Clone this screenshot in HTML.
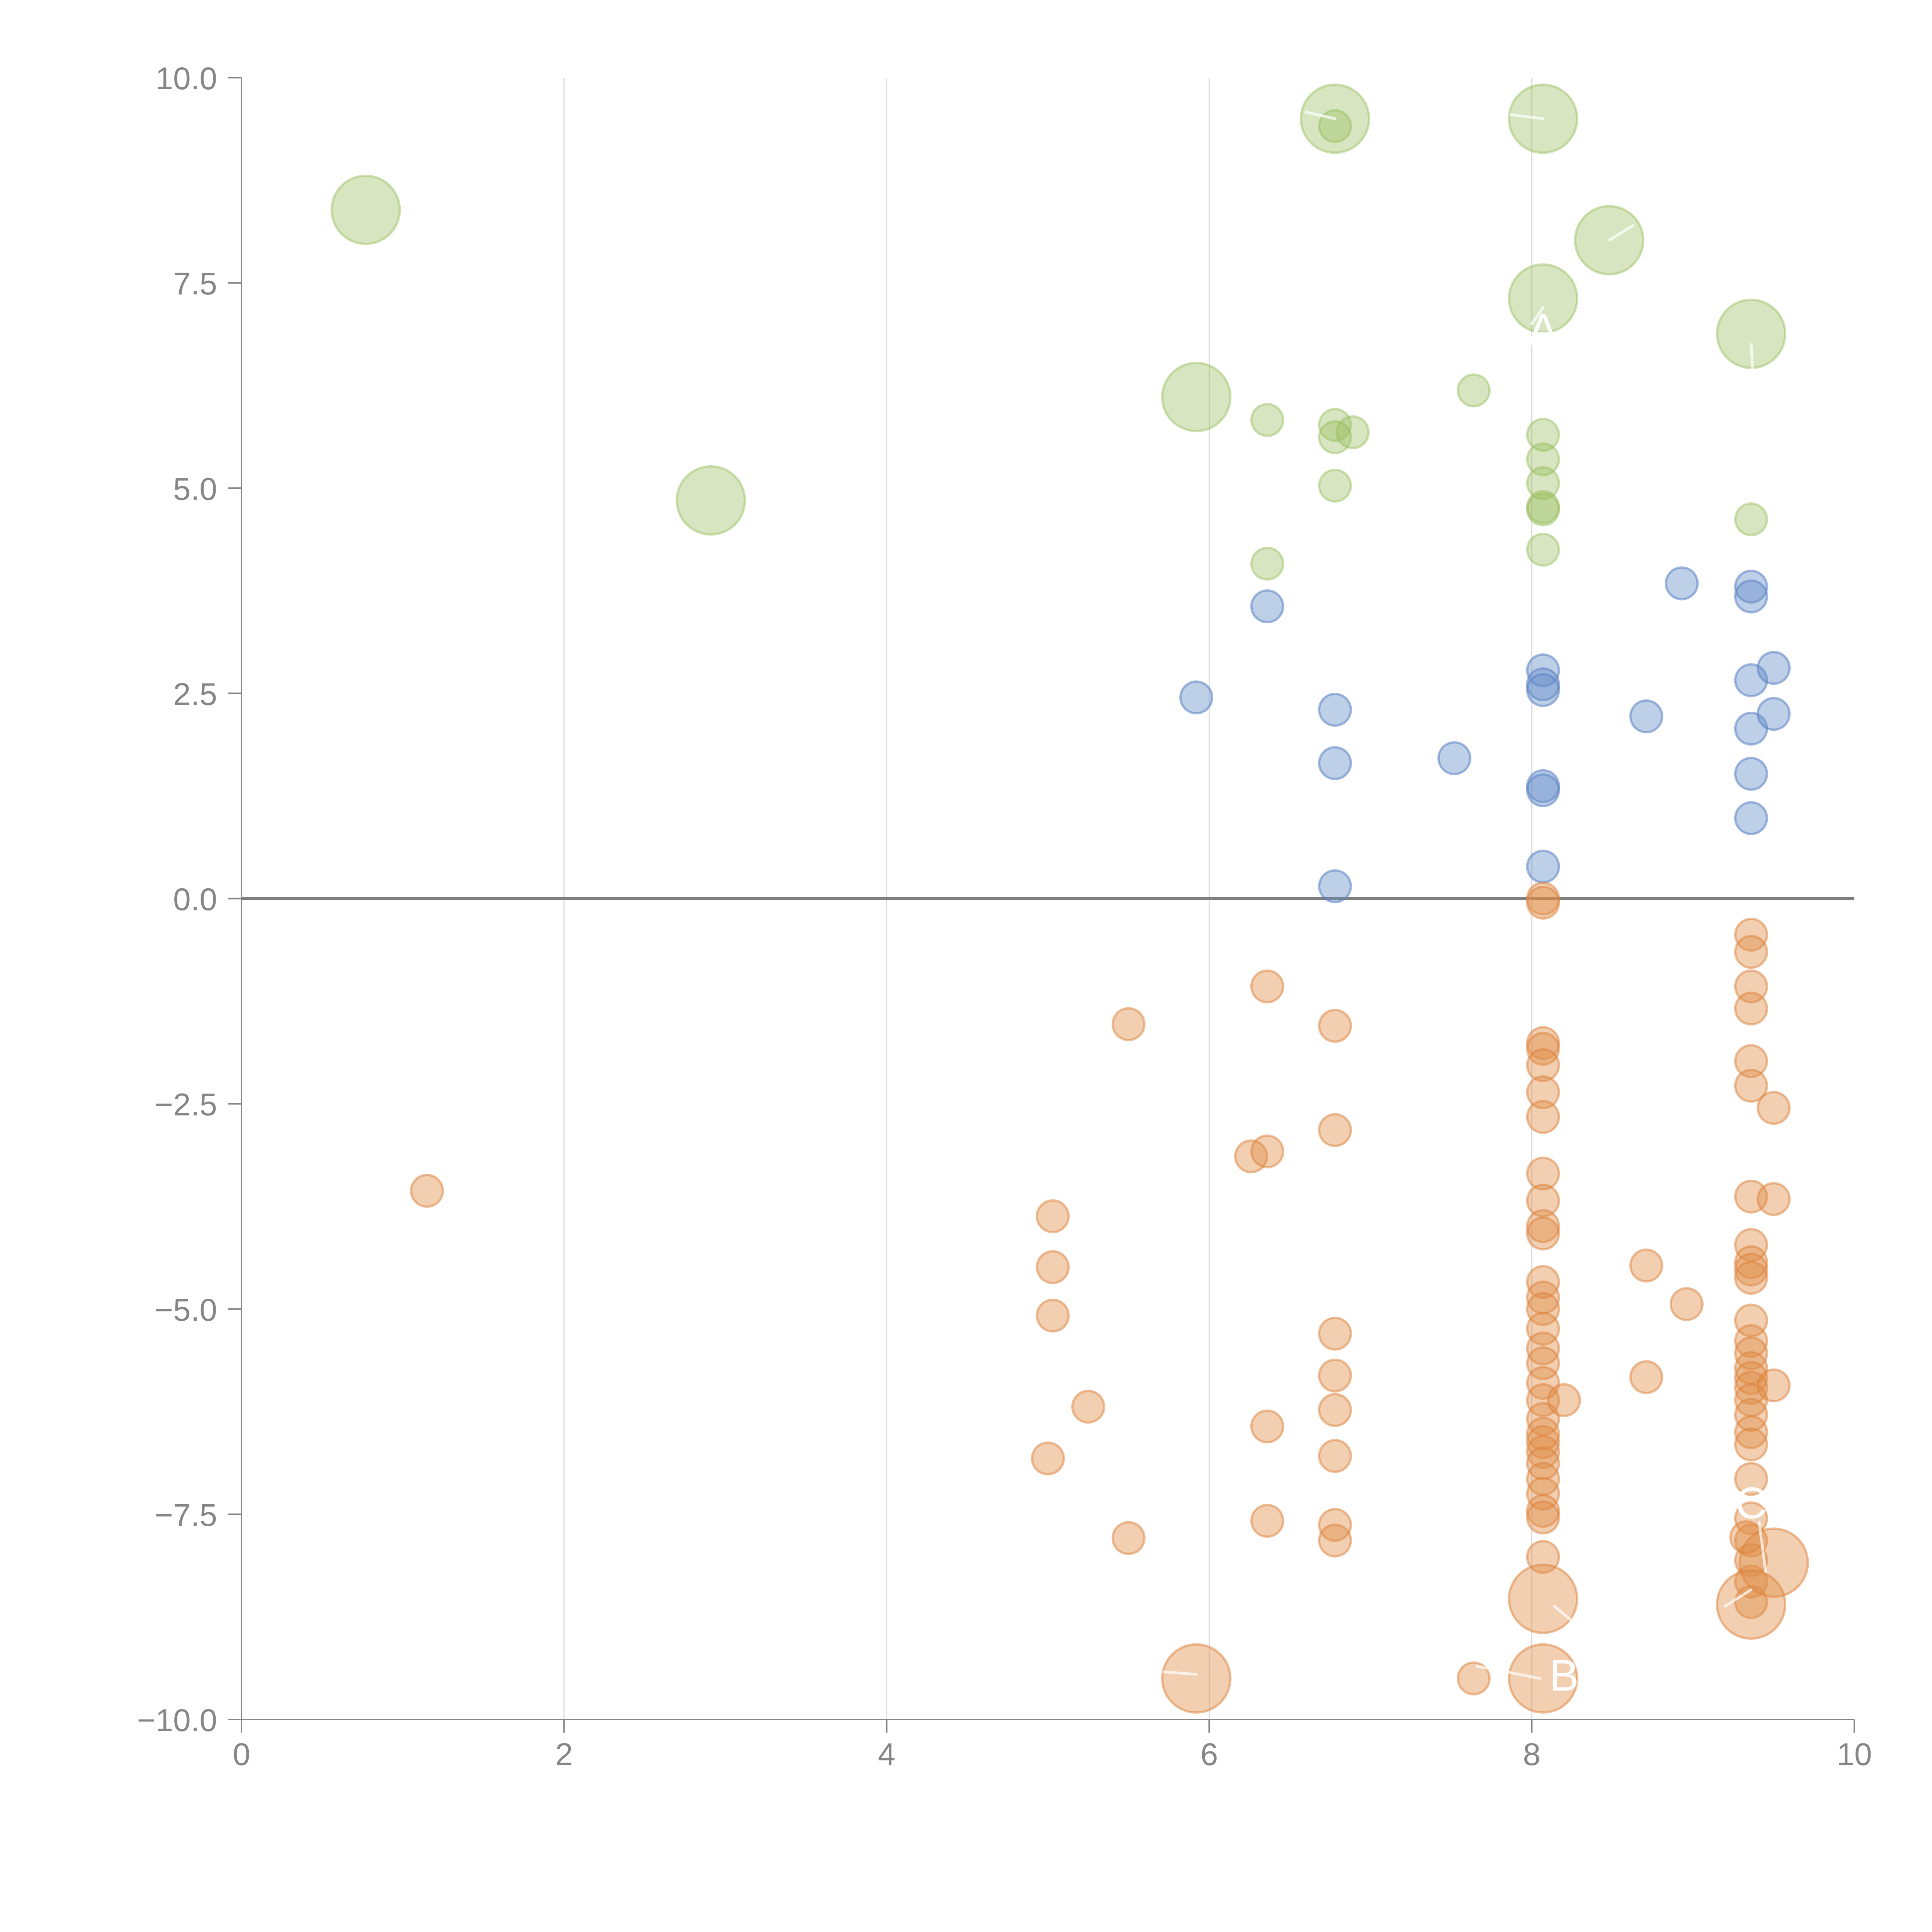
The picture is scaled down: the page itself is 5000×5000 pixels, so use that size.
<!DOCTYPE html>
<html><head><meta charset="utf-8"><style>
html,body{margin:0;padding:0;background:#fff;}
svg{display:block;}
text{font-family:"Liberation Sans",Arial,sans-serif;}
</style></head><body>
<svg id="chart" width="5000" height="5000" viewBox="0 0 5000 5000" xmlns="http://www.w3.org/2000/svg">
<g id="grid"></g>
<g id="axes"></g>
<g id="marks"></g>
<g id="labels"></g>
</svg>
<script>
// ---- data ----
const xTicks = [0, 2, 4, 6, 8, 10];
const yTicks = [10, 7.5, 5, 2.5, 0, -2.5, -5, -7.5, -10];
const yTickLabels = ["10.0", "7.5", "5.0", "2.5", "0.0", "\u22122.5", "\u22125.0", "\u22127.5", "\u221210.0"];

const greenX = [0.77, 2.91, 5.92, 6.78, 8.07, 8.48, 8.07, 9.36, 6.78, 7.64, 6.36, 6.78, 6.78, 6.89, 6.78, 6.36, 8.07, 8.07, 8.07, 8.07, 8.07, 8.07, 9.36];
const greenY = [8.39, 4.85, 6.11, 9.50, 9.50, 8.02, 7.31, 6.88, 9.41, 6.19, 5.83, 5.77, 5.62, 5.68, 5.03, 4.08, 5.65, 5.35, 5.06, 4.77, 4.74, 4.25, 4.62];
const greenS = [2.15, 2.15, 2.15, 2.15, 2.15, 2.15, 2.15, 2.15, 1, 1, 1, 1, 1, 1, 1, 1, 1, 1, 1, 1, 1, 1, 1];

const blueX = [6.36, 5.92, 6.78, 6.78, 6.78, 7.52, 8.07, 8.07, 8.07, 8.07, 8.07, 8.07, 8.71, 8.93, 9.36, 9.36, 9.36, 9.36, 9.36, 9.36, 9.50, 9.50];
const blueY = [3.56, 2.45, 2.30, 1.65, 0.15, 1.71, 2.78, 2.61, 2.54, 1.37, 1.32, 0.39, 2.22, 3.84, 3.80, 3.68, 2.66, 2.07, 1.52, 0.98, 2.81, 2.25];
const blueS = [1, 1, 1, 1, 1, 1, 1, 1, 1, 1, 1, 1, 1, 1, 1, 1, 1, 1, 1, 1, 1, 1];

const orangeX = [1.15, 5.50, 5.03, 5.03, 5.03, 5.25, 5.00, 5.50, 6.36, 6.26, 6.36, 6.36, 6.36,
  6.78, 6.78, 6.78, 6.78, 6.78, 6.78, 6.78, 6.78, 7.64,
  8.07, 8.07, 8.07, 8.07, 8.07, 8.07, 8.07, 8.07, 8.07, 8.07, 8.07, 8.07, 8.07, 8.07, 8.07, 8.07, 8.07, 8.07, 8.07, 8.07, 8.07, 8.07, 8.07, 8.07, 8.07, 8.07, 8.07, 8.07, 8.07,
  8.20, 8.71, 8.71, 8.96,
  9.36, 9.36, 9.36, 9.36, 9.36, 9.36, 9.36, 9.36, 9.36, 9.36, 9.36, 9.36, 9.36, 9.36, 9.36, 9.36, 9.36, 9.36, 9.36, 9.36, 9.36, 9.36, 9.36, 9.36, 9.36, 9.36, 9.36,
  9.33, 9.50, 9.50, 9.50,
  5.92, 8.07, 8.07, 9.50, 9.36];
const orangeY = [-3.56, -1.53, -3.87, -4.49, -5.08, -6.19, -6.82, -7.79, -1.07, -3.14, -3.08, -6.43, -7.58,
  -1.55, -2.82, -5.30, -5.81, -6.23, -6.79, -7.63, -7.82, -9.50,
  0.00, -0.05, -1.76, -1.83, -2.03, -2.36, -2.66, -3.35, -3.68, -3.99, -4.08, -4.67, -4.86, -5.00, -5.24, -5.48, -5.66, -5.90, -6.11, -6.34, -6.52, -6.62, -6.74, -6.88, -7.07, -7.25, -7.46, -7.54, -8.02,
  -6.11, -4.47, -5.83, -4.94,
  -0.44, -0.65, -1.07, -1.34, -1.98, -2.28, -3.63, -4.22, -4.43, -4.52, -4.62, -5.14, -5.39, -5.54, -5.72, -5.84, -5.96, -6.11, -6.29, -6.50, -6.65, -7.07, -7.55, -7.82, -8.06, -8.32, -8.57,
  -7.78, -2.55, -3.66, -5.93,
  -9.50, -8.53, -9.50, -8.09, -8.60];
const orangeS = orangeY.map((v, i) => i >= orangeY.length - 5 ? 2.15 : 1);

const annoNames = ["A", "B", "C"];
const annoX = [8.07, 8.20, 9.36];
const annoY = [6.75, -9.65, -7.55];

// leader lines (from point to point, in data units)
const leadX1 = [8.07, 7.66, 9.41, 8.14, 9.36, 5.92, 6.78, 8.07, 8.48, 9.36];
const leadY1 = [7.20, -9.35, -7.60, -8.62, -8.42, -9.45, 9.50, 9.50, 8.02, 6.75];
const leadX2 = [8.00, 8.05, 9.45, 8.25, 9.20, 5.72, 6.60, 7.87, 8.63, 9.37];
const leadY2 = [7.00, -9.50, -8.20, -8.80, -8.62, -9.42, 9.58, 9.55, 8.20, 6.45];

// ---- scales ----
const X0 = 625, X1 = 4799, Y0 = 4450, Y1 = 201;
function sx(v) { return X0 + (v - 0) / 10 * (X1 - X0); }
function sy(v) { return Y0 - (v + 10) / 20 * (Y0 - Y1); }
function sr(s) { return 41 * s; }

const NS = "http://www.w3.org/2000/svg";
function mk(tag, attrs, parent) {
  const el = document.createElementNS(NS, tag);
  for (const k in attrs) el.setAttribute(k, attrs[k]);
  parent.appendChild(el);
  return el;
}
const grid = document.getElementById('grid');
const axes = document.getElementById('axes');
const marks = document.getElementById('marks');
const labels = document.getElementById('labels');

xTicks.forEach(t => {
  if (t === 0 || t === 10) return;
  const l = mk('line', {x1: sx(t), x2: sx(t), y1: Y1, y2: Y0, stroke: '#dcdcdc', 'stroke-width': 3}, grid);
  
  
});

let a = mk('line', {x1: X0, x2: X0, y1: Y1, y2: Y0 + 34, stroke: '#868686', 'stroke-width': 4}, axes);


a = mk('line', {x1: X0 - 35, x2: X1, y1: Y0, y2: Y0, stroke: '#868686', 'stroke-width': 4}, axes);


a = mk('line', {x1: X0, x2: X1, y1: sy(0), y2: sy(0), stroke: '#7e7e7e', 'stroke-width': 8}, axes);



xTicks.forEach(t => {
  const tk = mk('line', {x1: sx(t), x2: sx(t), y1: Y0, y2: Y0 + 34, stroke: '#868686', 'stroke-width': 4}, axes);
  
  
  const tx = mk('text', {x: sx(t), y: Y0 + 118, 'text-anchor': 'middle', 'font-size': 82, fill: '#868686'}, axes);
  tx.textContent = String(t);
  
  
});
yTicks.forEach((t, i) => {
  const tk = mk('line', {x1: X0 - 35, x2: X0, y1: sy(t), y2: sy(t), stroke: '#868686', 'stroke-width': 4}, axes);
  
  
  const tx = mk('text', {x: X0 - 63, y: sy(t) + 30, 'text-anchor': 'end', 'font-size': 82, fill: '#868686'}, axes);
  tx.textContent = yTickLabels[i];
  
  
});

function drawSeries(xs, ys, ss, fill, stroke, name) {
  xs.forEach((x, i) => {
    const c = mk('circle', {cx: sx(x), cy: sy(ys[i]), r: sr(ss[i]), fill: fill, stroke: stroke, 'stroke-width': 6}, marks);
    
    
  });
}
drawSeries(greenX, greenY, greenS, 'rgba(150,188,90,0.38)', 'rgba(150,188,90,0.45)', 'green-bubble');
drawSeries(blueX, blueY, blueS, 'rgba(100,140,200,0.42)', 'rgba(90,130,195,0.55)', 'blue-bubble');
drawSeries(orangeX, orangeY, orangeS, 'rgba(225,140,70,0.42)', 'rgba(220,130,60,0.5)', 'orange-bubble');

leadX1.forEach((x, i) => {
  const l = mk('line', {x1: sx(x), y1: sy(leadY1[i]), x2: sx(leadX2[i]), y2: sy(leadY2[i]), stroke: 'rgba(255,255,255,0.7)', 'stroke-width': 7, 'stroke-linecap': 'round'}, labels);
  
  
});

annoNames.forEach((n, i) => {
  const t = mk('text', {x: sx(annoX[i]), y: sy(annoY[i]), 'text-anchor': 'middle', 'font-size': 115, fill: '#ffffff'}, labels);
  t.textContent = n;
  
  
});
</script>
</body></html>
